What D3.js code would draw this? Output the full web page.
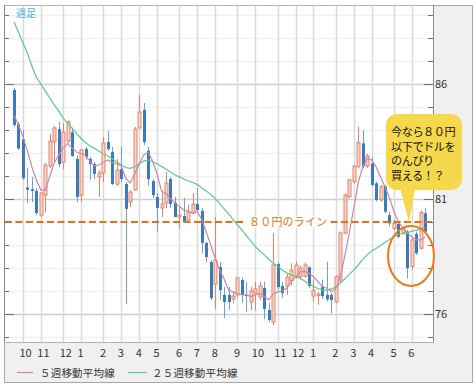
<!DOCTYPE html>
<html>
<head>
<meta charset="utf-8">
<script src="https://cdnjs.cloudflare.com/ajax/libs/d3/7.9.0/d3.min.js"></script>
<style>
  body { margin: 0; background: #fff; }
  text { font-family: "Noto Sans CJK JP", "Noto Sans", sans-serif; }
</style>
</head>
<body>
<div id="chart"></div>
<script>
// weekly USD/JPY candles, first week Mon 2010-09-20, last week Mon 2012-06-25
const firstWeek = new Date(2010, 8, 20);
const lastWeek = new Date(2012, 5, 25);

const opens = [85.74,84.25,83.60,81.50,81.43,81.35,80.30,81.17,82.43,83.48,84.04,82.60,83.52,83.90,82.74,81.17,83.17,82.74,82.52,81.96,
  82.13,83.48,83.04,81.65,82.30,81.65,80.87,81.39,84.09,84.87,83.10,81.78,81.09,80.61,80.83,81.87,80.83,80.22,80.26,80.09,
  80.39,80.78,80.48,79.09,78.26,77.30,78.04,76.83,76.83,76.65,76.83,77.48,76.83,76.52,76.91,76.74,77.13,76.17,75.65,78.17,
  77.22,77.22,77.45,77.62,77.62,77.64,78.03,76.78,76.80,77.19,76.83,76.83,76.53,77.48,79.52,81.10,81.75,82.41,83.42,82.43,
  82.55,81.68,80.96,81.54,80.30,79.72,79.91,79.52,79.58,78.07,79.48,78.86,80.38];
const highs = [85.83,84.35,84.00,82.35,81.96,81.48,81.30,82.57,83.83,84.17,84.35,84.30,84.43,84.10,82.90,83.17,83.26,82.83,82.60,82.26,
  83.70,83.96,83.26,82.74,83.26,81.74,81.39,84.13,85.52,85.17,83.26,81.87,81.26,81.30,82.17,81.96,81.09,80.70,81.04,80.74,
  81.26,81.48,80.61,79.13,78.35,80.22,78.26,77.17,77.17,76.96,77.60,77.60,77.40,77.17,77.40,77.40,77.40,76.48,79.52,78.26,
  77.40,77.78,78.20,78.27,78.10,78.23,78.06,77.50,76.95,77.50,78.27,76.90,77.70,79.59,81.25,81.87,82.48,84.14,84.00,82.96,
  82.84,81.75,81.61,81.61,80.45,80.09,80.00,79.80,79.65,79.29,79.59,80.50,80.60];
const lows = [84.13,83.13,81.83,80.83,80.87,80.30,80.20,80.43,82.35,82.57,82.39,82.30,83.43,82.83,80.87,80.87,82.70,81.83,81.87,81.09,
  81.74,83.09,81.61,81.56,81.74,76.43,80.65,81.35,84.04,83.35,81.57,81.04,79.57,80.22,80.61,80.61,80.22,79.70,79.96,80.00,
  80.35,80.43,78.65,78.26,76.61,76.22,76.61,75.83,76.17,76.48,76.74,76.48,76.09,76.17,76.17,76.61,75.78,75.65,75.52,77.04,
  76.70,76.83,77.25,77.55,77.50,77.60,77.12,76.53,76.40,76.64,76.55,76.03,76.46,77.33,79.45,81.03,81.68,82.33,82.33,82.35,
  81.54,80.89,80.89,80.38,79.80,79.65,79.29,79.45,77.55,77.91,78.57,78.80,79.52];
const closes = [84.22,83.20,81.90,81.40,81.35,80.39,81.26,82.48,83.52,84.09,82.52,83.90,84.35,82.87,81.09,83.13,82.83,82.52,82.09,82.13,
  83.43,83.17,81.65,82.26,81.87,80.57,81.30,84.04,84.78,83.48,81.87,81.17,80.61,80.78,81.70,80.78,80.22,80.30,80.00,80.43,
  80.78,80.52,79.09,78.48,76.70,78.35,77.04,76.52,76.52,76.78,77.57,76.83,76.78,77.00,77.09,77.22,76.22,75.74,78.13,77.17,
  76.91,77.60,77.90,78.13,77.99,78.13,77.22,77.03,76.87,76.78,76.64,76.61,77.62,79.52,81.17,81.83,82.43,83.45,82.43,82.87,
  81.61,80.96,81.54,80.45,79.94,79.94,79.36,79.74,77.99,79.22,78.64,80.41,79.58];

const ma5 = [84.65,84.22,83.70,83.09,82.39,81.83,81.39,81.39,81.98,82.57,82.91,83.22,83.41,83.22,83.04,82.98,82.91,82.65,82.43,82.48,
  82.61,82.70,82.57,82.54,82.43,81.91,81.70,82.09,82.52,82.91,83.04,82.65,82.09,81.35,81.24,81.02,80.83,80.67,80.52,80.46,
  80.39,80.46,80.11,79.57,79.00,78.43,77.91,77.52,77.04,76.96,76.89,76.83,76.83,76.76,76.83,76.89,76.76,76.61,76.87,76.96,
  77.00,77.13,77.39,77.61,77.83,77.85,77.77,77.62,77.41,77.20,77.12,76.98,77.11,77.61,78.52,79.52,80.59,81.70,82.39,82.76,
  82.70,82.40,81.96,81.52,81.04,80.46,80.02,79.73,79.51,79.36,79.22,79.22,79.36];
const ma25 = [88.70,88.26,87.78,87.35,86.78,86.30,86.00,85.70,85.39,85.09,84.83,84.52,84.30,84.07,83.85,83.63,83.46,83.30,83.20,83.09,
  82.96,82.87,82.74,82.61,82.48,82.37,82.33,82.39,82.52,82.65,82.70,82.63,82.52,82.41,82.30,82.17,82.04,81.96,81.87,81.78,
  81.72,81.63,81.48,81.35,81.20,81.02,80.80,80.57,80.35,80.11,79.87,79.65,79.41,79.17,78.93,78.74,78.57,78.37,78.22,78.07,
  77.91,77.78,77.70,77.63,77.55,77.43,77.30,77.19,77.11,77.04,77.04,77.09,77.17,77.35,77.52,77.72,77.91,78.13,78.37,78.57,
  78.74,78.85,78.98,79.11,79.24,79.37,79.46,79.50,79.54,79.59,79.65,79.70,79.74];

const yTicks = [76, 81, 86];
const lineValue = 80;
const lineLabel = "８０円のライン";
const calloutLines = ["今なら８０円", "以下でドルを", "のんびり", "買える！？"];
const legendNames = ["５週移動平均線", "２５週移動平均線"];

const W = 476, H = 388;
const plot = { left: 4, right: 433, top: 5, bottom: 342 };

const weeks = d3.timeMonday.range(firstWeek, d3.timeDay.offset(lastWeek, 1));
const data = weeks.map((d, i) => ({
  date: d, o: opens[i], h: highs[i], l: lows[i], c: closes[i], m5: ma5[i], m25: ma25[i]
}));

const weekMs = 7 * 24 * 3600 * 1000;
const x = d3.scaleTime()
  .domain([new Date(+firstWeek - 2.24 * weekMs), new Date(+firstWeek + 93.74 * weekMs)])
  .range([plot.left, plot.right]);
const y = d3.scaleLinear()
  .domain([86 - (plot.bottom - 84) / 23, 86 + (84 - plot.top) / 23])
  .range([plot.bottom, plot.top]);

// first monday of each month -> month gridlines
const monthTicks = d3.timeMonth.range(new Date(2010, 9, 1), new Date(2012, 6, 1))
  .map(m => ({ date: d3.timeMonday.ceil(m), label: String(m.getMonth() + 1) }));

const svg = d3.select("#chart").append("svg")
  .attr("width", W).attr("height", H);

// frame
svg.append("rect")
  .attr("x", 4.5).attr("y", 5.5).attr("width", 468).attr("height", 377)
  .attr("fill", "#f0f0f0").attr("stroke", "#a8a8a8");
svg.append("rect")
  .attr("x", plot.left + 0.5).attr("y", plot.top + 0.5)
  .attr("width", plot.right - plot.left).attr("height", plot.bottom - plot.top)
  .attr("fill", "#fff").attr("stroke", "#b4b4b4");

// horizontal grid, every 1 yen
const minorVals = d3.range(75, 90);
svg.append("g").selectAll("line")
  .data(minorVals)
  .join("line")
  .attr("x1", plot.left + 1).attr("x2", plot.right)
  .attr("y1", d => Math.round(y(d)) + 0.5).attr("y2", d => Math.round(y(d)) + 0.5)
  .attr("stroke", d => yTicks.includes(d) ? "#cfcfcf" : "#f0f0f0")
  .attr("stroke-width", 1.5);

// vertical grid
svg.append("g").selectAll("line")
  .data(monthTicks)
  .join("line")
  .attr("x1", d => Math.round(x(d.date)) + 0.5).attr("x2", d => Math.round(x(d.date)) + 0.5)
  .attr("y1", plot.top + 1).attr("y2", plot.bottom)
  .attr("stroke", "#dadada").attr("stroke-width", 1.5);

// candles
const blue = "#3a7bbd", blueWick = "#6aa2d6";
const red = "#e4836b", redFill = "#f8d6cc";
const cx = d => Math.round(x(d.date));
const candles = svg.append("g");
candles.selectAll("line")
  .data(data)
  .join("line")
  .attr("x1", d => cx(d) + 0.5).attr("x2", d => cx(d) + 0.5)
  .attr("y1", d => y(d.h)).attr("y2", d => y(d.l))
  .attr("stroke", d => d.c >= d.o ? red : blueWick).attr("stroke-width", 1);
candles.selectAll("rect")
  .data(data)
  .join("rect")
  .attr("x", d => cx(d) - 1)
  .attr("width", 3)
  .attr("y", d => y(Math.max(d.o, d.c)))
  .attr("height", d => Math.max(1, y(Math.min(d.o, d.c)) - y(Math.max(d.o, d.c))))
  .attr("fill", d => d.c >= d.o ? redFill : blue)
  .attr("stroke", d => d.c >= d.o ? red : "none")
  .attr("stroke-width", 1);

// moving averages
const line5 = d3.line().x(d => x(d.date)).y(d => y(d.m5));
const line25 = d3.line().x(d => x(d.date)).y(d => y(d.m25));
svg.append("path").datum(data).attr("d", line25)
  .attr("fill", "none").attr("stroke", "#5cc894").attr("stroke-width", 1.2);
svg.append("path").datum(data).attr("d", line5)
  .attr("fill", "none").attr("stroke", "#cf86a6").attr("stroke-width", 1.2);

// 80 yen line
const y80 = y(lineValue);
svg.append("line")
  .attr("x1", plot.left + 1).attr("x2", plot.right)
  .attr("y1", y80).attr("y2", y80)
  .attr("stroke", "#e8730c").attr("stroke-width", 2)
  .attr("stroke-dasharray", "7,3.5");
const lbl = svg.append("text")
  .attr("x", 249).attr("y", y80 + 4)
  .attr("font-size", 11).attr("fill", "#e8730c")
  .attr("letter-spacing", 0.2)
  .text(lineLabel);
const bb = lbl.node().getBBox();
svg.insert("rect", "text")
  .attr("x", bb.x - 3).attr("y", y80 - 6).attr("width", bb.width + 6).attr("height", 12)
  .attr("fill", "#fff");

// axes ticks
const tickVals = d3.range(75, 90);
const ticks = svg.append("g").attr("stroke", "#707070");
tickVals.forEach(v => {
  const yy = Math.round(y(v)) + 0.5;
  const major = yTicks.includes(v);
  ticks.append("line").attr("x1", plot.left).attr("x2", plot.left + (major ? 10 : 5)).attr("y1", yy).attr("y2", yy);
  ticks.append("line").attr("x1", plot.right - (major ? 9 : 5)).attr("x2", plot.right).attr("y1", yy).attr("y2", yy);
});
svg.append("line").attr("x1", plot.left + 0.5).attr("x2", plot.left + 0.5)
  .attr("y1", plot.top).attr("y2", plot.bottom).attr("stroke", "#8a8a8a");
svg.append("line").attr("x1", plot.right + 0.5).attr("x2", plot.right + 0.5)
  .attr("y1", plot.top).attr("y2", plot.bottom).attr("stroke", "#8a8a8a");

svg.append("g").selectAll("text")
  .data(yTicks)
  .join("text")
  .attr("x", plot.right + 2).attr("y", d => y(d) + 4)
  .attr("font-size", 11).attr("fill", "#333")
  .text(d => d);

svg.append("g").selectAll("text")
  .data(monthTicks)
  .join("text")
  .attr("x", d => x(d.date) - 3.5).attr("y", 357)
  .attr("font-size", 11).attr("fill", "#333")
  .text(d => d.label);

// title tag
svg.append("text")
  .attr("x", 16).attr("y", 17)
  .attr("font-size", 10).attr("fill", "#3cb4e6")
  .text("週足");

// legend
const legend = svg.append("g");
[["#cf86a6", 17, 33, 40], ["#5cc894", 128, 147, 152]].forEach((s, i) => {
  legend.append("line").attr("x1", s[1]).attr("x2", s[2]).attr("y1", 372.5).attr("y2", 372.5)
    .attr("stroke", s[0]).attr("stroke-width", 1.2);
  legend.append("text").attr("x", s[3]).attr("y", 376.5)
    .attr("font-size", 10.5).attr("fill", "#333").attr("letter-spacing", 0.2)
    .text(legendNames[i]);
});

// callout bubble
const bubble = svg.append("g");
bubble.append("path")
  .attr("d", "M400,188 L409,222 L415,188 Z")
  .attr("fill", "#f6d84c");
bubble.append("rect")
  .attr("x", 386).attr("y", 114).attr("width", 76).attr("height", 76)
  .attr("rx", 11).attr("ry", 11)
  .attr("fill", "#f6d84c");
bubble.selectAll("text")
  .data(calloutLines)
  .join("text")
  .attr("x", 391).attr("y", (d, i) => 136 + i * 14.6)
  .attr("font-size", 11.2).attr("fill", "#111")
  .attr("letter-spacing", -0.5)
  .text(d => d);

// circle marker
svg.append("ellipse")
  .attr("cx", 411).attr("cy", 256).attr("rx", 23).attr("ry", 30)
  .attr("fill", "none").attr("stroke", "#f07818").attr("stroke-width", 2);
</script>
</body>
</html>
